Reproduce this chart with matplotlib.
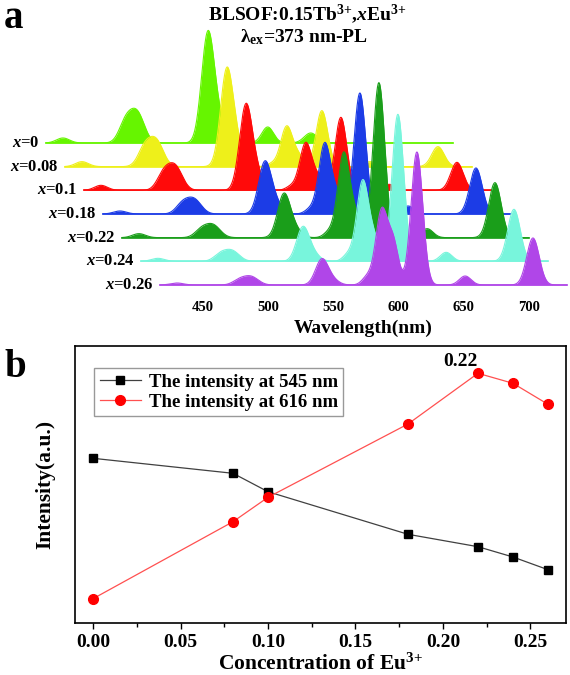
import numpy as np
import matplotlib
matplotlib.use("Agg")
import matplotlib.pyplot as plt

plt.rcParams['font.family'] = ['Liberation Serif', 'DejaVu Serif']
plt.rcParams['font.weight'] = 'bold'
plt.rcParams['mathtext.fontset'] = 'custom'
plt.rcParams['mathtext.rm'] = 'Liberation Serif:bold'
plt.rcParams['mathtext.it'] = 'Liberation Serif:italic:bold'
plt.rcParams['mathtext.bf'] = 'Liberation Serif:bold'

# ---- panel a: emission spectra (peak components) ----
samples = ['0', '0.08', '0.1', '0.18', '0.22', '0.24', '0.26']
colors = ['#66f500', '#eef01a', '#ff0a0a', '#1c3ce6', '#1a9e1a', '#78f5dc', '#b046e8']

peak_nm = [430, 478, 487, 541, 549, 576, 587, 596, 614, 620, 651, 703]
peak_w = [5.0, 5.0, 5.5, 4.8, 5.0, 4.0, 4.5, 4.0, 4.5, 5.0, 4.5, 4.8]
heights = [
    [5, 20, 29, 106, 22, 0, 16, 0, 0, 10, 0, 0],    # x=0
    [5, 18, 25, 94, 19, 3, 40, 10, 56, 0, 5, 20],   # x=0.08
    [5, 16, 23, 82, 17, 4, 47, 12, 73, 0, 6, 28],   # x=0.1
    [3, 10, 14, 50, 11, 5, 70, 18, 121, 0, 8, 46],  # x=0.18
    [4, 8, 12, 42, 9, 6, 84, 20, 155, 0, 9, 55],    # x=0.22
    [3, 7, 10, 33, 7, 7, 80, 20, 147, 0, 9, 52],    # x=0.24
    [2, 5, 8, 25, 5, 8, 74, 40, 133, 0, 9, 47],     # x=0.26
]
wl_ticks = [450, 500, 550, 600, 650, 700]

# ---- panel b: intensity vs concentration ----
conc = [0.00, 0.08, 0.10, 0.18, 0.22, 0.24, 0.26]
i545 = [164.7, 149.7, 131.3, 88.7, 76.3, 66.0, 53.3]
i616 = [24.3, 101.3, 125.7, 199.0, 249.7, 239.7, 218.7]

fig = plt.figure(figsize=(5.7, 6.75), dpi=100)

# panel a
ax = fig.add_axes([40/570, 1-290/675, 530/570, 270/675])
ax.set_xlim(325.0, 731.4)
ax.set_ylim(-5, 265)
dx = 14.57
dy = 23.67
wl = np.linspace(417, 729, 1200)
for i, (s, c, h) in enumerate(zip(samples, colors, heights)):
    k = len(samples) - 1 - i
    prof = np.zeros_like(wl)
    for p, w, a in zip(peak_nm, peak_w, h):
        prof += a * np.exp(-0.5 * ((wl - p) / w) ** 2)
    xs = wl - k * dx
    base = k * dy
    ax.fill_between(xs, base, base + prof, color=c, lw=0, zorder=2 + i)
    ax.plot(xs, base + prof, color=c, lw=0.8, zorder=2 + i)
    ax.plot([xs[0], xs[-1]], [base, base], color=c, lw=1.2, zorder=2 + i)
    ax.text(xs[0] - 5, base, '$x$=' + s, ha='right', va='center',
            fontsize=12, fontweight='bold')
for sp in ax.spines.values():
    sp.set_visible(False)
ax.set_yticks([])
ax.set_xticks(wl_ticks)
ax.set_xticklabels([str(t) for t in wl_ticks], fontsize=10.5, fontweight='bold')
ax.tick_params(axis='x', length=0, pad=8)
fig.text(363/570, 1-328/675, 'Wavelength(nm)', ha='center', va='center',
         fontsize=14, fontweight='bold')
fig.text(307/570, 1-14/675, r'BLSOF:0.15Tb$^{3{+}}$,$x$Eu$^{3{+}}$', ha='center',
         va='center', fontsize=14, fontweight='bold')
fig.text(304/570, 1-37/675, r'λ$_{\mathrm{ex}}$=373 nm-PL', ha='center',
         va='center', fontsize=14, fontweight='bold')
fig.text(4/570, 1-28/675, 'a', ha='left', va='baseline', fontsize=28, fontweight='bold')

# panel b
bx = fig.add_axes([75/570, 1-623/675, 491/570, 277/675])
bx.plot(conc, i545, color='#404040', lw=0.9, marker='s', markersize=6,
        markerfacecolor='black', markeredgecolor='black',
        label='The intensity at 545 nm')
bx.plot(conc, i616, color='#ff5050', lw=0.9, marker='o', markersize=7,
        markerfacecolor='#ff0000', markeredgecolor='#ff0000',
        label='The intensity at 616 nm')
bx.set_xlim(-0.0103, 0.2703)
bx.set_ylim(0, 277)
bx.set_yticks([])
bx.set_xticks([0.00, 0.05, 0.10, 0.15, 0.20, 0.25])
bx.set_xticklabels(['0.00', '0.05', '0.10', '0.15', '0.20', '0.25'],
                   fontsize=14, fontweight='bold')
bx.set_xticks([0.025, 0.075, 0.125, 0.175, 0.225], minor=True)
bx.tick_params(axis='x', which='major', direction='out', length=4, width=1, pad=4)
bx.tick_params(axis='x', which='minor', direction='out', length=3, width=1)
for sp in bx.spines.values():
    sp.set_linewidth(1.2)
bx.set_xlabel(r'Concentration of Eu$^{3{+}}$', fontsize=15.5, fontweight='bold', labelpad=2)
bx.set_ylabel('Intensity(a.u.)', fontsize=15.5, fontweight='bold', labelpad=14)
bx.text(0.2097, 262, '0.22', ha='center', va='center', fontsize=14, fontweight='bold')
leg = bx.legend(loc='upper left', bbox_to_anchor=(0.039, 0.921), fontsize=13.5,
                frameon=True, fancybox=False, edgecolor='#808080',
                handlelength=2.2, borderpad=0.3, labelspacing=0.15,
                handletextpad=0.4, borderaxespad=0)
leg.get_frame().set_linewidth(1.0)
fig.text(4/570, 1-377/675, 'b', ha='left', va='baseline', fontsize=28, fontweight='bold')

fig.savefig('out.png', dpi=100)
